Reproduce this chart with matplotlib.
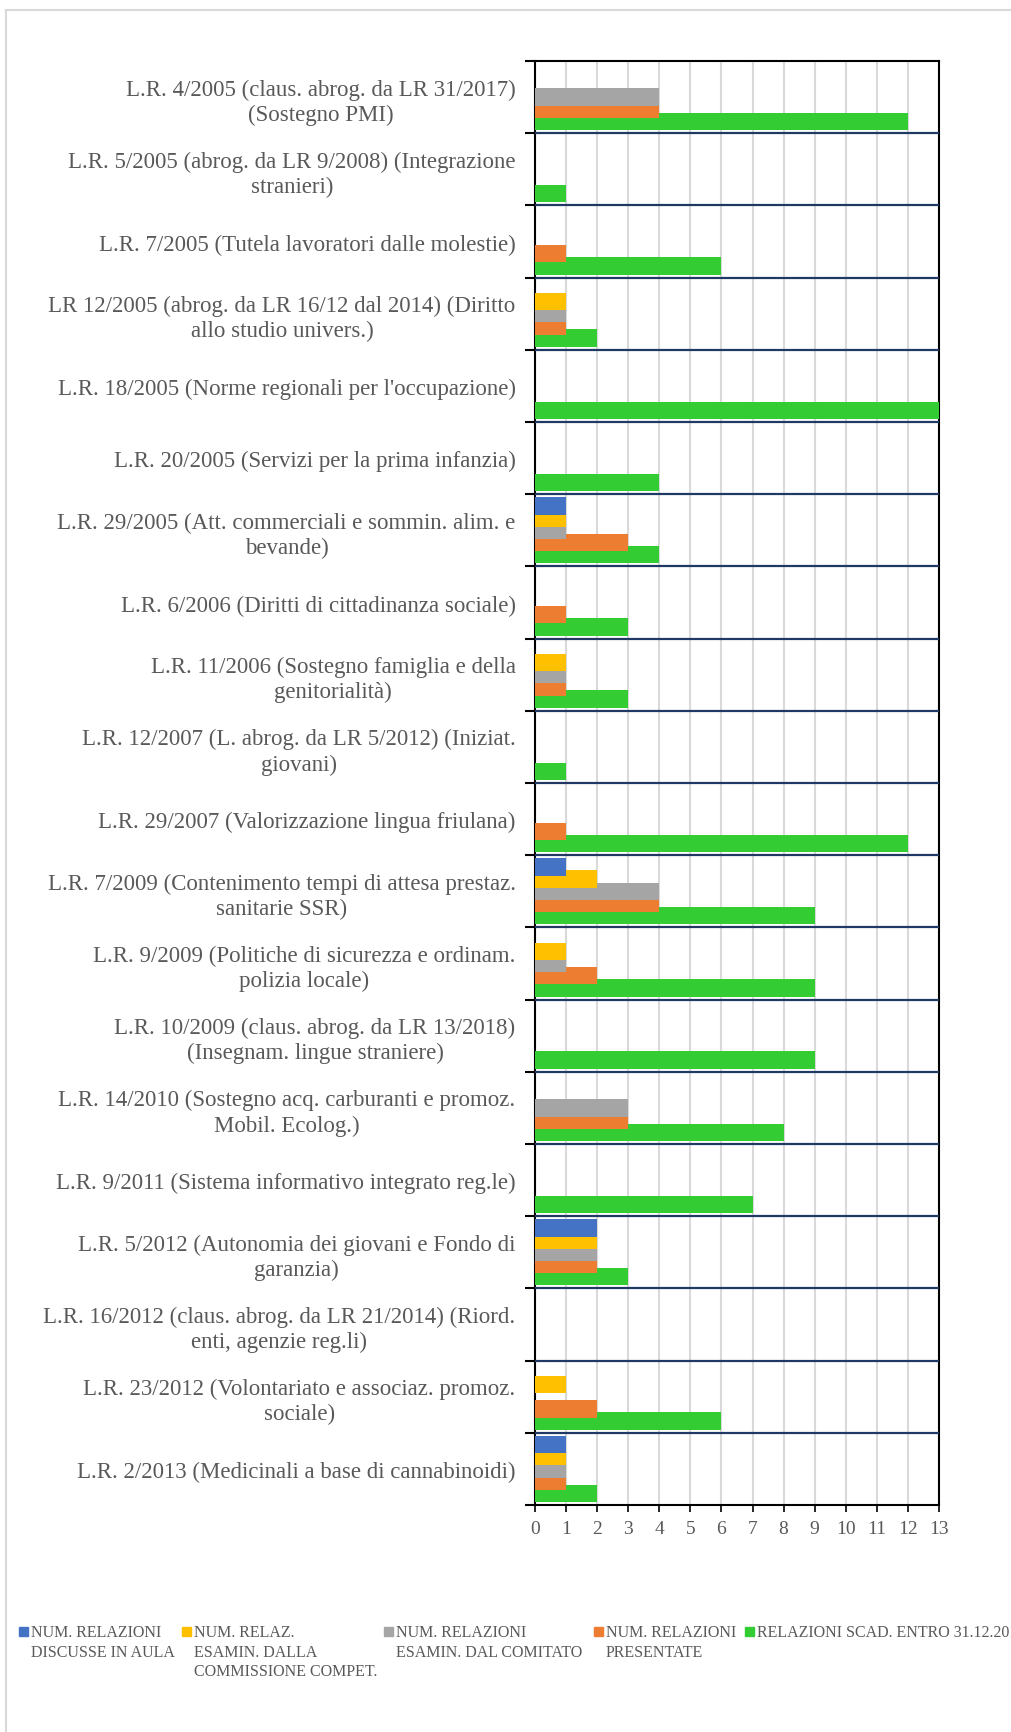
import matplotlib.pyplot as plt
import numpy as np
from matplotlib.patches import Rectangle
from matplotlib.lines import Line2D

leggi = [
    "L.R. 4/2005 (claus. abrog. da LR 31/2017)\n(Sostegno PMI)",
    "L.R. 5/2005 (abrog. da LR 9/2008) (Integrazione\nstranieri)",
    "L.R. 7/2005 (Tutela lavoratori dalle molestie)",
    "LR 12/2005 (abrog. da LR 16/12 dal 2014) (Diritto\nallo studio univers.)",
    "L.R. 18/2005 (Norme regionali per l'occupazione)",
    "L.R. 20/2005 (Servizi per la prima infanzia)",
    "L.R. 29/2005 (Att. commerciali e sommin. alim. e\nbevande)",
    "L.R. 6/2006 (Diritti di cittadinanza sociale)",
    "L.R. 11/2006 (Sostegno famiglia e della\ngenitorialità)",
    "L.R. 12/2007 (L. abrog. da LR 5/2012) (Iniziat.\ngiovani)",
    "L.R. 29/2007 (Valorizzazione lingua friulana)",
    "L.R. 7/2009 (Contenimento tempi di attesa prestaz.\nsanitarie SSR)",
    "L.R. 9/2009 (Politiche di sicurezza e ordinam.\npolizia locale)",
    "L.R. 10/2009 (claus. abrog. da LR 13/2018)\n(Insegnam. lingue straniere)",
    "L.R. 14/2010 (Sostegno acq. carburanti e promoz.\nMobil. Ecolog.)",
    "L.R. 9/2011 (Sistema informativo integrato reg.le)",
    "L.R. 5/2012 (Autonomia dei giovani e Fondo di\ngaranzia)",
    "L.R. 16/2012 (claus. abrog. da LR 21/2014) (Riord.\nenti, agenzie reg.li)",
    "L.R. 23/2012 (Volontariato e associaz. promoz.\nsociale)",
    "L.R. 2/2013 (Medicinali a base di cannabinoidi)",
]

discusse_aula = [0, 0, 0, 0, 0, 0, 1, 0, 0, 0, 0, 1, 0, 0, 0, 0, 2, 0, 0, 1]
esam_commissione = [0, 0, 0, 1, 0, 0, 1, 0, 1, 0, 0, 2, 1, 0, 0, 0, 2, 0, 1, 1]
esam_comitato = [4, 0, 0, 1, 0, 0, 1, 0, 1, 0, 0, 4, 1, 0, 3, 0, 2, 0, 0, 1]
presentate = [4, 0, 1, 1, 0, 0, 3, 1, 1, 0, 1, 4, 2, 0, 3, 0, 2, 0, 2, 1]
scadute = [12, 1, 6, 2, 13, 4, 4, 3, 3, 1, 12, 9, 9, 9, 8, 7, 3, 0, 6, 2]

serie_nomi = [
    "NUM. RELAZIONI\nDISCUSSE IN AULA",
    "NUM. RELAZ.\nESAMIN. DALLA\nCOMMISSIONE COMPET.",
    "NUM. RELAZIONI\nESAMIN. DAL COMITATO",
    "NUM. RELAZIONI\nPRESENTATE",
    "RELAZIONI SCAD. ENTRO 31.12.2018",
]
serie = [discusse_aula, esam_commissione, esam_comitato, presentate, scadute]
colori = ["#4472C4", "#FFC000", "#A5A5A5", "#ED7D31", "#33CC33"]

grigio_testo = "#595959"
font = "Liberation Serif"

fig = plt.figure(figsize=(10.11, 17.33), dpi=100)
ax = fig.add_axes([535 / 1011, 227 / 1733, 404 / 1011, 1444 / 1733])

y = np.arange(len(leggi))
passo = 0.169
altezza = 0.24
# series overlap: blue on top of the stack, green drawn first
for j, (vals, col) in enumerate(zip(serie, colori)):
    ax.barh(y + (j - 2) * passo, vals, height=altezza, color=col,
            edgecolor="none", zorder=10 - j)

ax.set_xlim(0, 13)
ax.set_ylim(len(leggi) - 0.5, -0.5)
ax.set_xticks(range(14))
ax.xaxis.grid(True, color="#D9D9D9", linewidth=1.5, zorder=0)
ax.set_axisbelow(True)

# separators between the laws
for b in np.arange(0.5, len(leggi) - 0.5, 1):
    ax.axhline(b, color="#1F3864", linewidth=1.6, zorder=12)

ax.set_yticks(y)
ax.set_yticklabels(leggi, fontfamily=font, fontsize=16.5, color=grigio_testo,
                   multialignment="center", linespacing=1.25)
ax.tick_params(axis="y", length=0, pad=14)
ax.set_yticks(np.arange(-0.5, len(leggi), 1), minor=True)
ax.tick_params(axis="y", which="minor", length=7, width=1.5, color="black")
ax.tick_params(axis="x", length=5, width=1.2, color="black", labelsize=14,
               labelcolor=grigio_testo, pad=6)
for lab in ax.get_xticklabels():
    lab.set_fontfamily(font)

for s in ax.spines.values():
    s.set_color("black")
    s.set_linewidth(1.5)

# chart border (top and left visible)
fig.add_artist(Line2D([6 / 1011, 1], [1 - 11 / 1733, 1 - 11 / 1733],
                      color="#D9D9D9", linewidth=1.5))
fig.add_artist(Line2D([6 / 1011, 6 / 1011], [0, 1 - 11 / 1733],
                      color="#D9D9D9", linewidth=1.5))

# legend
leg_x = [19, 182, 384, 594, 745]
for x0, nome, col in zip(leg_x, serie_nomi, colori):
    fig.add_artist(Rectangle((x0 / 1011, 1 - 1637 / 1733), 9 / 1011, 9 / 1733,
                             color=col, transform=fig.transFigure))
    fig.text((x0 + 12) / 1011, 1 - 1625 / 1733, nome, fontfamily=font,
             fontsize=11.5, color=grigio_testo, va="top", ha="left",
             linespacing=1.3)

fig.savefig("out.png", dpi=100)
